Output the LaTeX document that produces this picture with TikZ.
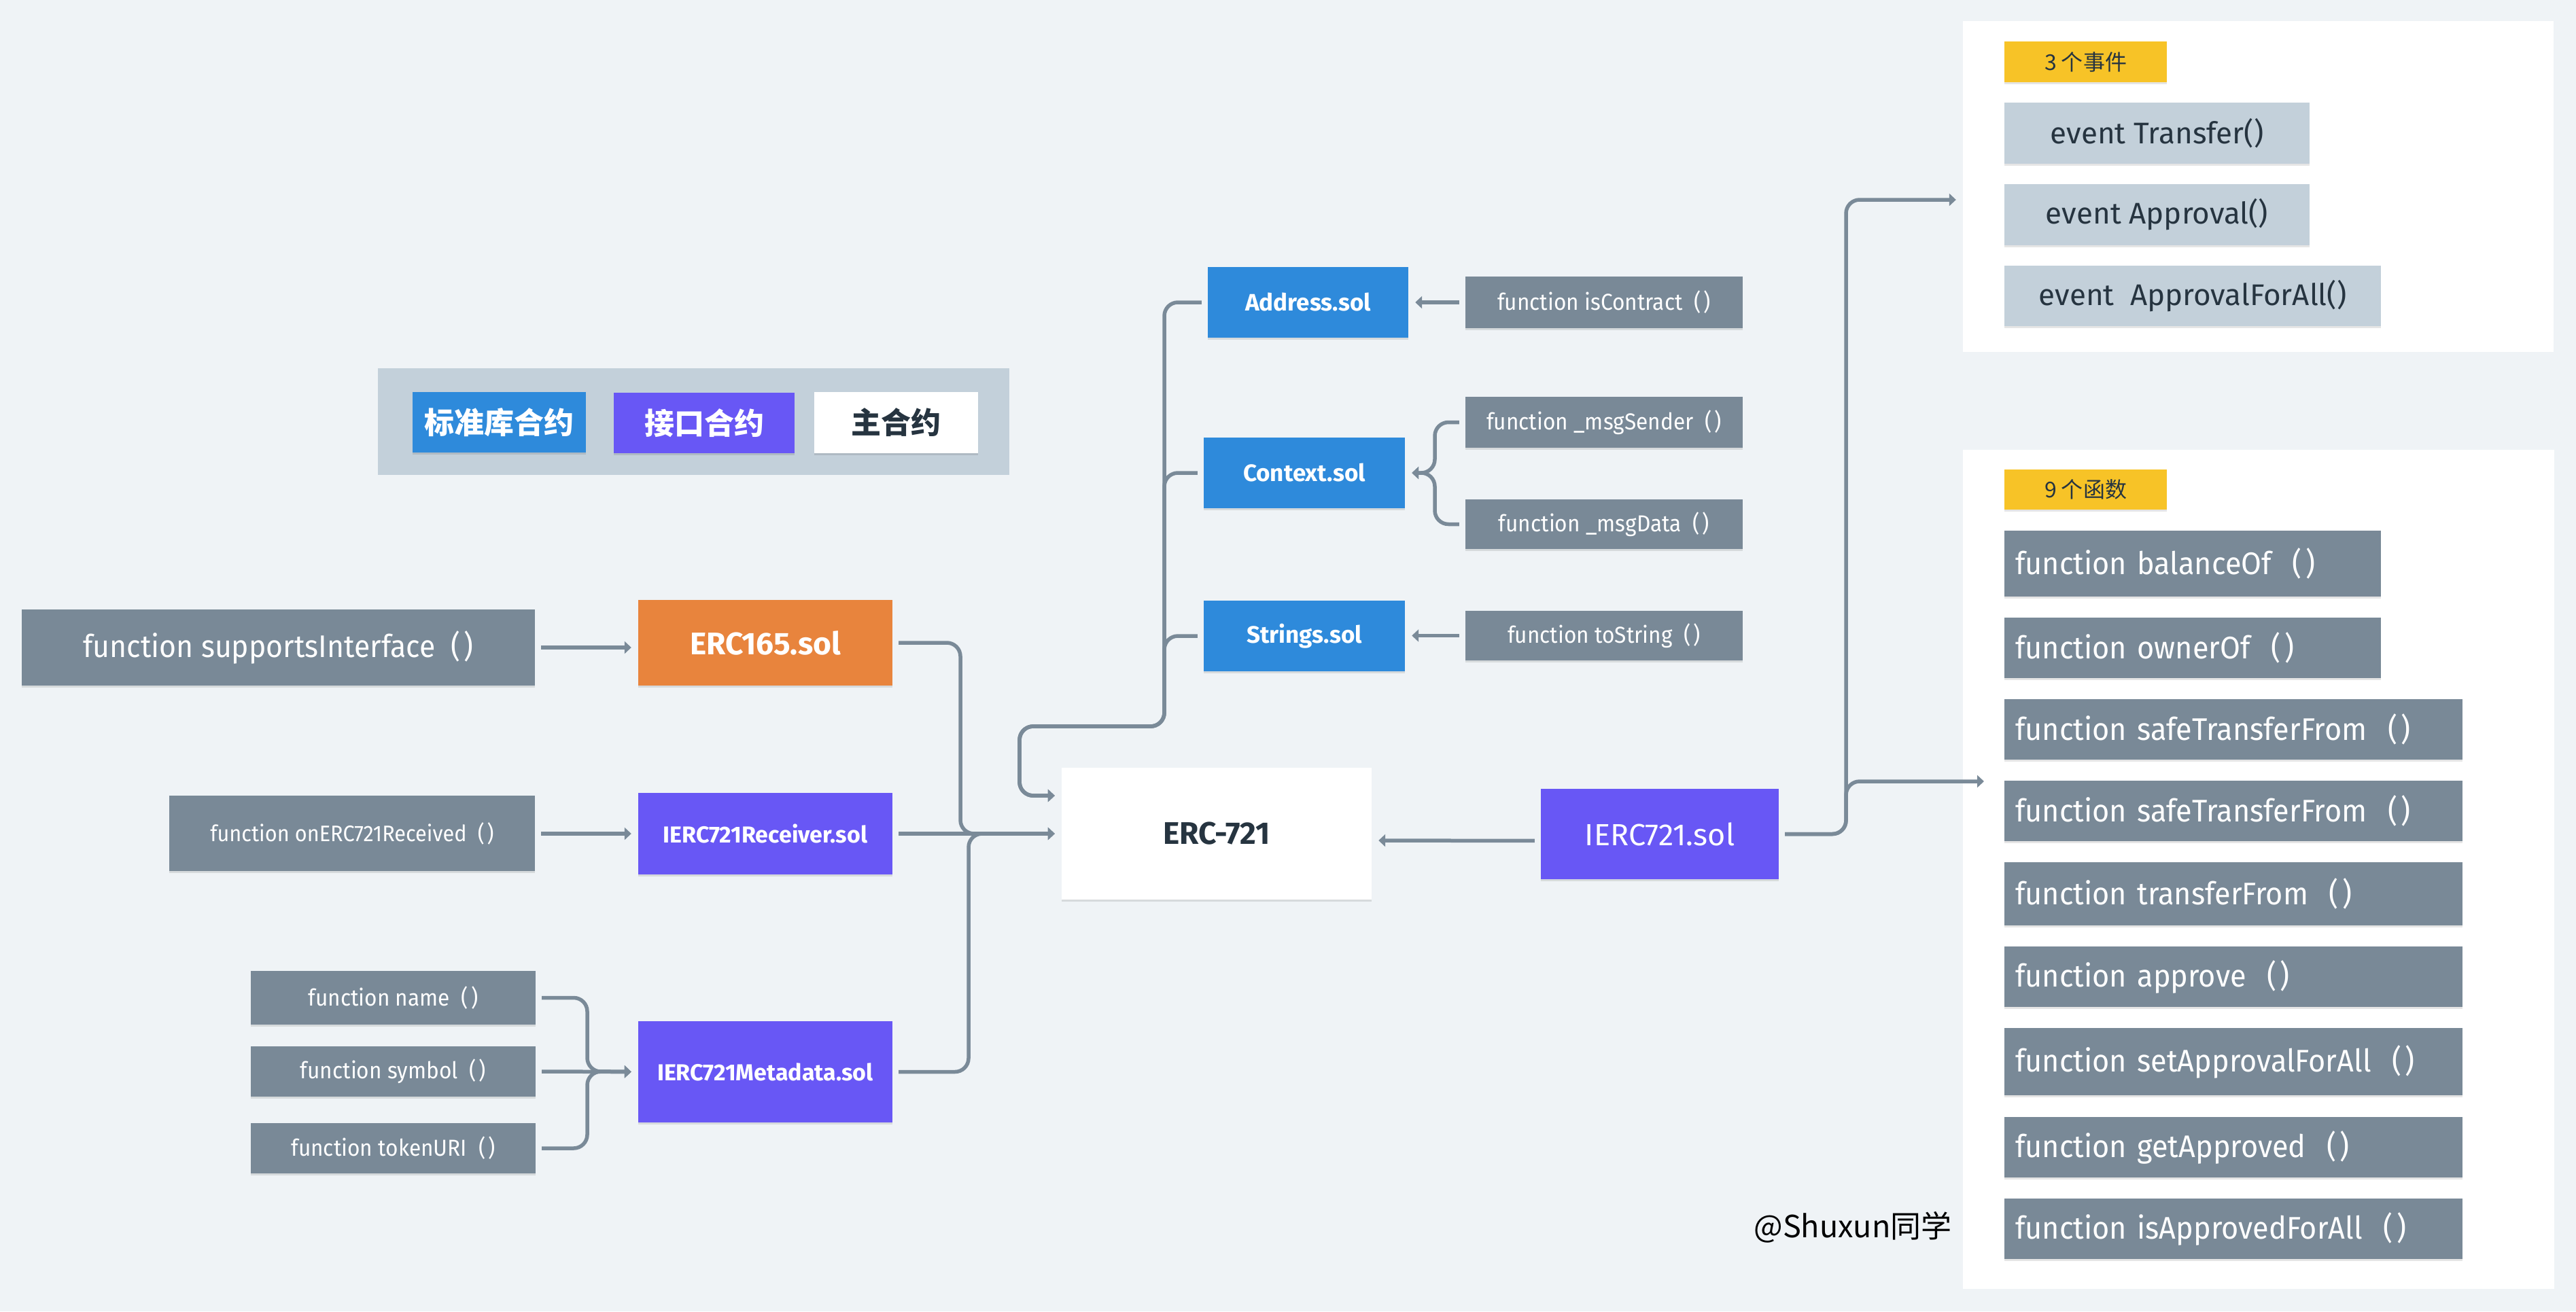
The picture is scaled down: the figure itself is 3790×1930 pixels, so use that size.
\documentclass[tikz,border=0pt]{standalone}
\usepackage{fontspec}
\setmainfont{Fira Sans}
\newfontfamily\cjk{Noto Sans CJK SC}
\newfontfamily\lf[FakeStretch=0.93]{Fira Sans}
\newfontfamily\rf[FakeStretch=0.94]{Fira Sans}
\usetikzlibrary{arrows.meta,shadows}
\definecolor{bgc}{HTML}{EFF3F6}
\definecolor{cblue}{HTML}{2E8ADB}
\definecolor{cpurple}{HTML}{6857F5}
\definecolor{corange}{HTML}{E8843D}
\definecolor{cgray}{HTML}{798997}
\definecolor{clight}{HTML}{C3D0DA}
\definecolor{cyellow}{HTML}{F7C327}
\definecolor{cdark}{HTML}{263440}
\definecolor{cline}{HTML}{7A8A98}
\tikzset{
  box/.style={rectangle, inner sep=0pt, anchor=center, text=white,
    drop shadow={shadow xshift=0pt, shadow yshift=-3pt, opacity=0.10, fill=black}},
  fnbox/.style={box, fill=cgray},
  libbox/.style={box, fill=cblue, font=\bfseries\fontsize{35}{40}\selectfont},
  ifbox/.style={box, fill=cpurple, font=\bfseries\fontsize{34}{40}\selectfont},
  evbox/.style={box, fill=clight, text=cdark, font=\fontsize{44}{50}\selectfont},
  tagbox/.style={box, fill=cyellow, text=cdark, font=\cjk\fontsize{32}{38}\selectfont},
  rfn/.style={rectangle, fill=cgray, text=white, anchor=west, inner xsep=16pt, inner ysep=0pt,
    align=left, font=\rf\fontsize{46}{52}\selectfont,
    drop shadow={shadow xshift=0pt, shadow yshift=-3pt, opacity=0.10, fill=black}},
  panel/.style={rectangle, fill=white, inner sep=0pt, anchor=center},
  conn/.style={draw=cline, line width=5.5pt, rounded corners=20pt, shorten <=9pt},
  arr/.style={conn, -{Triangle[length=10pt,width=18pt]}, shorten >=10pt},
}
\begin{document}
\begin{tikzpicture}[x=1pt,y=-1pt]
\fill[bgc] (0,0) rectangle (3790,1930);
\useasboundingbox (0,0) rectangle (3790,1930);

% legend
\node[rectangle, fill=clight, inner sep=0pt, minimum width=929pt, minimum height=157pt] (leg) at (1020.5,620.5) {};
\node[box, fill=cblue, minimum width=255pt, minimum height=89pt, font=\cjk\bfseries\fontsize{44}{50}\selectfont] (leg1) at (734.5,621.5) {标准库合约};
\node[box, fill=cpurple, minimum width=266pt, minimum height=89pt, font=\cjk\bfseries\fontsize{44}{50}\selectfont] (leg2) at (1036,622.5) {接口合约};
\node[box, fill=white, text=cdark, minimum width=241pt, minimum height=90pt, font=\cjk\bfseries\fontsize{44}{50}\selectfont] (leg3) at (1318.5,622) {主合约};

% left side
\node[fnbox, minimum width=755pt, minimum height=112pt, font=\lf\fontsize{46}{52}\selectfont] (si) at (409.5,953) {function supportsInterface\ \ (\kern0.12em)};
\node[box, fill=corange, minimum width=374pt, minimum height=126pt, font=\bfseries\fontsize{46}{50}\selectfont] (e165) at (1126,946) {ERC165.sol};
\node[fnbox, minimum width=538pt, minimum height=111pt, font=\lf\fontsize{33}{40}\selectfont] (onr) at (518,1226.5) {function onERC721Received\ \ (\kern0.12em)};
\node[ifbox, minimum width=374pt, minimum height=120pt] (rcv) at (1126,1227) {IERC721Receiver.sol};
\node[fnbox, minimum width=419pt, minimum height=79pt, font=\lf\fontsize{34}{40}\selectfont] (fname) at (578.5,1468.5) {function name\ \ (\kern0.12em)};
\node[fnbox, minimum width=419pt, minimum height=74pt, font=\lf\fontsize{34}{40}\selectfont] (fsym) at (578.5,1577) {function symbol\ \ (\kern0.12em)};
\node[fnbox, minimum width=419pt, minimum height=74pt, font=\lf\fontsize{34}{40}\selectfont] (ftok) at (578.5,1690) {function tokenURI\ \ (\kern0.12em)};
\node[ifbox, minimum width=374pt, minimum height=149pt] (meta) at (1126,1577.5) {IERC721Metadata.sol};

% center
\node[box, fill=white, text=cdark, minimum width=456pt, minimum height=194pt, font=\bfseries\fontsize{46}{50}\selectfont] (erc) at (1790,1227) {ERC-721};
\node[libbox, minimum width=295pt, minimum height=104pt] (addr) at (1924.5,445) {Address.sol};
\node[libbox, minimum width=296pt, minimum height=104pt] (ctx) at (1919,696) {Context.sol};
\node[libbox, minimum width=296pt, minimum height=104pt] (strs) at (1919,936) {Strings.sol};
\node[fnbox, minimum width=408pt, minimum height=76pt, font=\lf\fontsize{34}{40}\selectfont] (isc) at (2360,445) {function isContract\ \ (\kern0.12em)};
\node[fnbox, minimum width=408pt, minimum height=75pt, font=\lf\fontsize{34}{40}\selectfont] (msgs) at (2360,621.5) {function \_msgSender\ \ (\kern0.12em)};
\node[fnbox, minimum width=408pt, minimum height=73pt, font=\lf\fontsize{34}{40}\selectfont] (msgd) at (2360,771.5) {function \_msgData\ \ (\kern0.12em)};
\node[fnbox, minimum width=408pt, minimum height=73pt, font=\lf\fontsize{34}{40}\selectfont] (tos) at (2360,935.5) {function toString\ \ (\kern0.12em)};
\node[box, fill=cpurple, minimum width=350pt, minimum height=133pt, font=\fontsize{45}{50}\selectfont] (ierc) at (2442,1227.5) {IERC721.sol};

% right panels
\node[panel, minimum width=869pt, minimum height=487pt] (evp) at (3322.5,274.5) {};
\node[tagbox, minimum width=239pt, minimum height=60pt] (evtag) at (3068.5,91) {3 个事件};
\node[evbox, minimum width=449pt, minimum height=90pt] (ev1) at (3173.5,196) {event Transfer()};
\node[evbox, minimum width=449pt, minimum height=90pt] (ev2) at (3173.5,316) {event Approval()};
\node[evbox, minimum width=554pt, minimum height=89pt] (ev3) at (3226,435.5) {event\ \ ApprovalForAll()};

\node[panel, minimum width=870pt, minimum height=1235pt] (fnp) at (3323,1279.5) {};
\node[tagbox, minimum width=239pt, minimum height=59pt] (fntag) at (3068.5,720.5) {9 个函数};
\node[rfn, text width=522pt, minimum height=97pt] (f1) at (2949,829.5) {function balanceOf\ \ (\kern0.12em)};
\node[rfn, text width=522pt, minimum height=89pt] (f2) at (2949,953.5) {function ownerOf\ \ (\kern0.12em)};
\node[rfn, text width=642pt, minimum height=89pt] (f3) at (2949,1073.5) {function safeTransferFrom\ \ (\kern0.12em)};
\node[rfn, text width=642pt, minimum height=89pt] (f4) at (2949,1193.5) {function safeTransferFrom\ \ (\kern0.12em)};
\node[rfn, text width=642pt, minimum height=93pt] (f5) at (2949,1315.5) {function transferFrom\ \ (\kern0.12em)};
\node[rfn, text width=642pt, minimum height=89pt] (f6) at (2949,1437.5) {function approve\ \ (\kern0.12em)};
\node[rfn, text width=642pt, minimum height=99pt] (f7) at (2949,1562.5) {function setApprovalForAll\ \ (\kern0.12em)};
\node[rfn, text width=642pt, minimum height=89pt] (f8) at (2949,1688.5) {function getApproved\ \ (\kern0.12em)};
\node[rfn, text width=642pt, minimum height=89pt] (f9) at (2949,1808.5) {function isApprovedForAll\ \ (\kern0.12em)};

\node[text=black, font=\cjk\fontsize{45}{50}\selectfont, inner sep=0pt] (credit) at (2726,1806) {@Shuxun同学};

% junction coordinates
\coordinate (jA) at (1413,1227);
\coordinate (jB) at (1425,1227);
\coordinate (jN) at (864,1577);
\coordinate (jL1) at (1713,1069);
\coordinate (jL2) at (1500,1171);
\coordinate (jC) at (2111,696);
\coordinate (jE) at (2716,294);
\coordinate (jF) at (2716,1150);
\coordinate (fTip) at (2929,1150);

% connectors left
\draw[arr] (si.east |- 0,953) -- (e165.west |- 0,953);
\draw[arr] (onr.east |- rcv.west) -- (rcv.west);
\draw[arr] (fname.east) -| (jN) -- (meta.west);
\draw[arr] (fsym.east) -- (meta.west);
\draw[arr] (ftok.east) -| (jN) -- (meta.west);
\draw[arr] (e165.east) -| (jA) -- (erc.west);
\draw[arr] (rcv.east) -- (erc.west);
\draw[arr] (meta.east) -| (jB) -- (erc.west);

% libraries
\draw[arr] (addr.west) -| (jL1) -| (jL2) -- (jL2 -| erc.west);
\draw[arr] (ctx.west) -| (jL1) -| (jL2) -- (jL2 -| erc.west);
\draw[arr] (strs.west) -| (jL1) -| (jL2) -- (jL2 -| erc.west);
\draw[arr] (isc.west) -- (isc.west -| addr.east);
\draw[arr] (msgs.west) -| (jC) -- (ctx.east);
\draw[arr] (msgd.west) -| (jC) -- (ctx.east);
\draw[arr] (tos.west) -- (tos.west -| strs.east);

% IERC721
\draw[arr] ([yshift=-10pt]ierc.west) -- ([yshift=-10pt]erc.east);
\draw[arr] (ierc.east) -| (jE) -- (jE -| evp.west);
\draw[arr] (ierc.east) -| (jF) -- (fTip);
\end{tikzpicture}
\end{document}
